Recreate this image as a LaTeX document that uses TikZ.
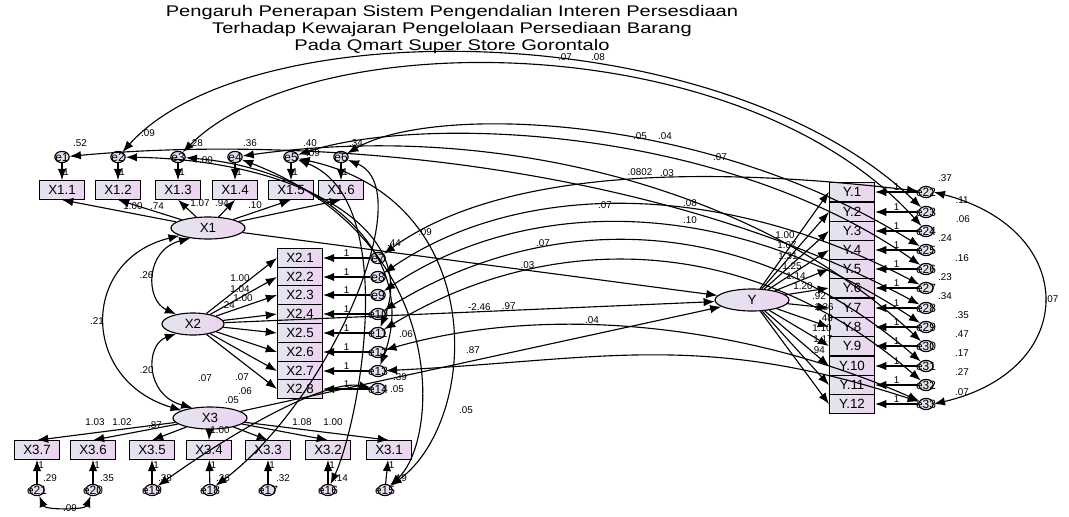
\documentclass[tikz,border=0pt]{standalone}
\usepackage{graphicx}
\usepackage{fontspec}
\setmainfont{Liberation Sans}
\usetikzlibrary{arrows.meta,shapes.geometric}
\definecolor{obsleft}{HTML}{E3E5EF}
\definecolor{obsright}{HTML}{EDD3F0}

\begin{document}
\begin{tikzpicture}[x=0.025cm,y=-0.025cm,line width=0.8pt,
  obsbox/.style={draw,line width=0.9pt,left color=obsleft,right color=obsright,minimum width=1.12cm,
    minimum height=0.46cm,inner sep=0pt,font=\fontsize{9.5}{9.5}\selectfont},
  latent/.style={ellipse,draw,left color=obsleft,right color=obsright,minimum width=1.85cm,
    minimum height=0.55cm,inner sep=0pt,font=\fontsize{9.5}{9.5}\selectfont},
  errc/.style={ellipse,draw,left color=obsleft,right color=obsright,minimum width=0.36cm,
    minimum height=0.28cm,inner sep=0pt},
  errlab/.style={font=\fontsize{8.5}{8.5}\selectfont,inner sep=0pt},
  coef/.style={font=\fontsize{7}{7}\selectfont,inner sep=0.5pt},
  pth/.style={-{Latex[length=2.8mm,width=2.1mm]}},
  cov/.style={{Latex[length=2.8mm,width=2.1mm]}-{Latex[length=2.8mm,width=2.1mm]}}]
\useasboundingbox (0,0) rectangle (1069,516);

% title
\node (title) at (452,30) {\scalebox{1.3}[1]{\fontsize{11}{12}\selectfont
  \begin{tabular}{@{}c@{}}Pengaruh Penerapan Sistem Pengendalian Interen Persesdiaan\\
  Terhadap Kewajaran Pengelolaan Persediaan Barang\\Pada Qmart Super Store Gorontalo\end{tabular}}};

% latent variables
\node[latent] (X1) at (208,228) {X1};
\node[latent,minimum width=1.55cm] (X2) at (193,324) {X2};
\node[latent] (X3) at (210,418) {X3};
\node[latent] (Y) at (752,300) {Y};

% X1 indicators
\foreach \i/\xx in {1/62,2/118,3/178,4/235,5/291,6/341}{
  \node[obsbox] (x1\i) at (\xx,190) {X1.\i};
  \node[errc,label={[errlab]center:e\i}] (e\i) at (\xx,157) {};
  \draw[pth] (e\i) -- (x1\i) node[coef,midway,right]{1};
  \draw[pth] (X1) -- (x1\i.south);
}
% X2 indicators
\foreach \i/\yy in {1/258,2/277,3/295,4/314,5/333,6/352,7/371,8/389}{
  \pgfmathtruncatemacro{\ee}{\i+6}
  \node[obsbox] (x2\i) at (300,\yy) {X2.\i};
  \node[errc,label={[errlab]center:e\ee}] (e\ee) at (378,\yy) {};
  \draw[pth] (e\ee) -- (x2\i) node[coef,midway,above]{1};
  \draw[pth] (X2) -- (x2\i.west);
}
% X3 indicators
\foreach \i/\xx/\ex in {1/389/385,2/328/328,3/268/268,4/209/210,5/152/152,6/93/93,7/37/37}{
  \pgfmathtruncatemacro{\ee}{\i+14}
  \node[obsbox] (x3\i) at (\xx,450) {X3.\i};
  \node[errc,label={[errlab]center:e\ee}] (e\ee) at (\ex,490) {};
  \draw[pth] (e\ee) -- (x3\i) node[coef,pos=0.8,right]{1};
  \draw[pth] (X3) -- (x3\i.north);
}
% Y indicators
\foreach \i/\yy in {1/192,2/212,3/231,4/250,5/269,6/288,7/308,8/327,9/346,10/366,11/385,12/404}{
  \pgfmathtruncatemacro{\ee}{\i+21}
  \node[obsbox] (y\i) at (852,\yy) {Y.\i};
  \node[errc,label={[errlab]center:e\ee}] (e\ee) at (926,\yy) {};
  \draw[pth] (e\ee) -- (y\i) node[coef,midway,above]{1};
  \draw[pth] (Y) -- (y\i.west);
}

% structural paths
\draw[pth] (X1) -- (Y) node[coef,pos=0.6,above]{.03};
\draw[pth] (X2) -- (Y) node[coef,pos=0.52,above]{-2.46} node[coef,pos=0.58,above]{.97};
\draw[pth] (X3) -- (Y);

% covariances of latents
\draw[cov] (X1.210) .. controls (145,250) and (145,300) .. (X2.150) node[coef,midway,left]{.26};
\draw[cov] (X2.210) .. controls (145,345) and (145,395) .. (X3.150) node[coef,midway,left]{.20};
\draw[cov] (X1.195) .. controls (80,260) and (80,380) .. (X3.165) node[coef,midway,left]{.21};

% covariances of errors
\draw[cov] (e2) .. controls (250,10) and (720,15) .. (e23);
\draw[cov] (e3) .. controls (310,25) and (740,25) .. (e24);
\draw[cov] (e6) .. controls (430,105) and (700,110) .. (e25);
\draw[cov] (e5) .. controls (420,115) and (720,125) .. (e26);
\draw[cov] (e1) .. controls (300,135) and (650,160) .. (e28);
\draw[cov] (e4) .. controls (500,120) and (760,190) .. (e30);
\draw[cov] (e7) .. controls (500,170) and (700,165) .. (e22);
\draw[cov] (e8) .. controls (520,180) and (720,180) .. (e27);
\draw[cov] (e9) .. controls (520,200) and (720,190) .. (e29);
\draw[cov] (e10) .. controls (540,215) and (740,205) .. (e31);
\draw[cov] (e11) .. controls (540,235) and (740,225) .. (e32);
\draw[cov] (e12) .. controls (560,300) and (760,330) .. (e33);
\draw[cov] (e5) .. controls (490,200) and (480,420) .. (e15);
\draw[cov] (e4) .. controls (450,240) and (440,440) .. (e15);
\draw[cov] (e3) .. controls (330,170) and (420,260) .. (e13);
\draw[cov] (e2) .. controls (300,160) and (420,230) .. (e11);
\draw[cov] (e6) .. controls (420,190) and (330,400) .. (e18);
\draw[cov] (e5) .. controls (400,200) and (360,420) .. (e16);
\draw[cov] (e19) .. controls (250,420) and (330,380) .. (e14);
\draw[cov] (e13) .. controls (600,360) and (700,330) .. (e33);
\draw[cov] (e21) .. controls (45,510) and (85,510) .. (e20);
\draw[cov] (e22.east) .. controls (1080,230) and (1080,370) .. (e33.east) node[coef,midway,right]{.07};

% coefficient labels
\foreach \t/\xx/\yy in {.52/80/143,.09/148/133,.28/196/143,.00/206/160,.36/250/143,.40/310/143,.09/313/153,.34/356/143,
  1.00/133/206,.74/157/206,1.07/200/203,.94/222/203,.10/255/205,
  1.00/240/278,1.04/240/289,1.00/243/298,.24/228/305,.07/205/378,.07/242/377,.06/245/391,.05/232/400,
  .44/394/243,.09/425/232,.06/406/334,.39/400/377,.05/397/389,.87/473/350,.05/466/410,
  .07/565/57,.08/598/57,.05/640/136,.04/665/136,.07/720/157,.0802/640/172,.03/667/173,.07/605/205,.08/690/203,
  .10/690/220,.07/543/243,.04/592/320,
  1.03/95/422,1.02/122/422,.87/155/425,1.00/220/430,1.08/302/422,1.00/333/422,
  .29/50/478,.35/107/478,.38/165/478,.26/223/478,.32/283/478,.14/341/478,.19/400/478,.09/70/508,
  1.00/785/235,1.07/787/245,1.31/788/256,1.25/792/266,1.14/796/276,1.20/803/286,
  .92/819/296,1.36/824/307,.48/826/318,1.10/822/328,1.17/823/339,.94/818/350,
  .37/945/178,.11/962/200,.06/963/219,.24/945/238,.16/962/258,.23/945/277,.34/945/296,
  .35/962/315,.47/962/334,.17/962/353,.27/962/372,.07/962/392}
  \node[coef] at (\xx,\yy) {\t};
\end{tikzpicture}
\end{document}
